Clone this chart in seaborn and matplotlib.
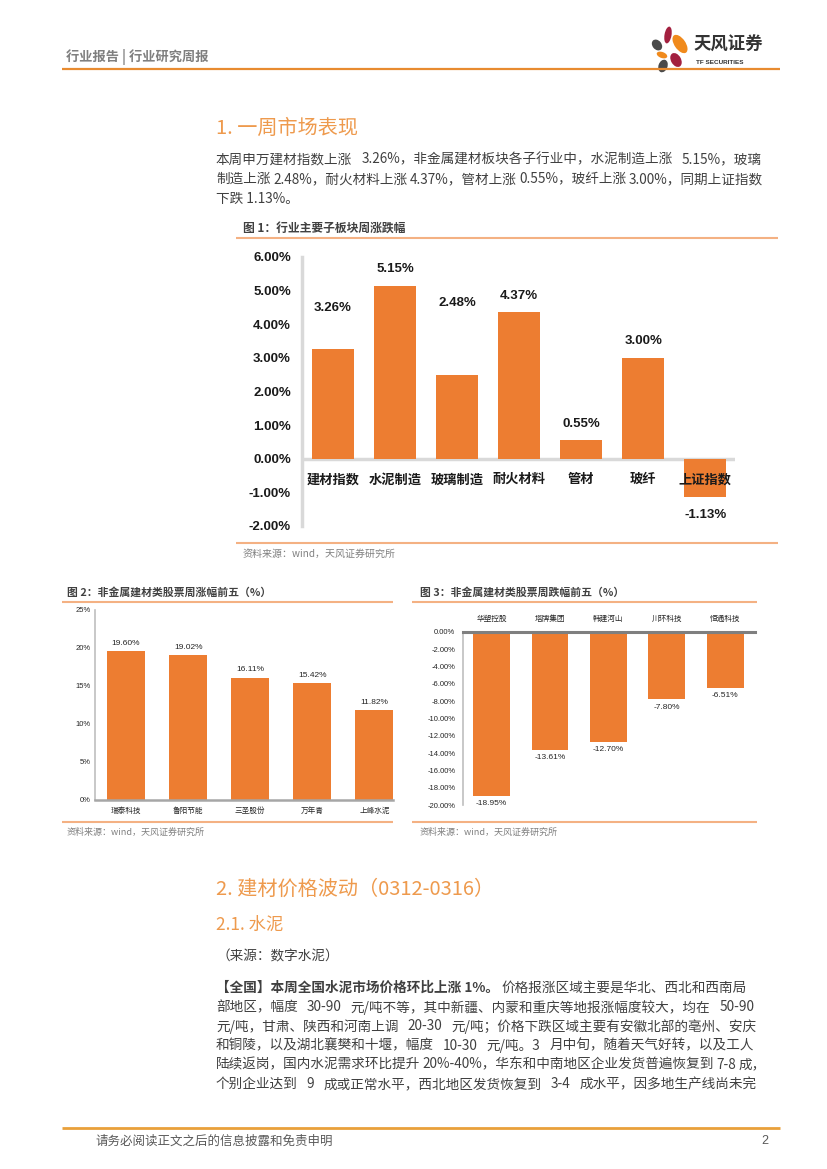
import numpy as np
import pandas as pd
import matplotlib
matplotlib.use('Agg')
import matplotlib.pyplot as plt
import seaborn as sns
from matplotlib.patches import Ellipse

# ---------------- data ----------------
fig1_categories = ['建材指数', '水泥制造', '玻璃制造', '耐火材料', '管材', '玻纤', '上证指数']
fig1_values = [3.26, 5.15, 2.48, 4.37, 0.55, 3.00, -1.13]
fig1_yticks = [6, 5, 4, 3, 2, 1, 0, -1, -2]

fig2_stocks = ['瑞泰科技', '鲁阳节能', '三圣股份', '万年青', '上峰水泥']
fig2_values = [19.60, 19.02, 16.11, 15.42, 11.82]
fig2_yticks = [0, 5, 10, 15, 20, 25]

fig3_stocks = ['华塑控股', '塔牌集团', '韩建河山', '川环科技', '恒通科技']
fig3_values = [-18.95, -13.61, -12.70, -7.80, -6.51]
fig3_yticks = [0, -2, -4, -6, -8, -10, -12, -14, -16, -18, -20]

# label positions for figure 1 (as placed in the original)
fig1_label_y = [4.49, 5.65, 4.64, 4.85, 1.04, 3.51, -1.67]

para1 = [
    '本周申万建材指数上涨 3.26%，非金属建材板块各子行业中，水泥制造上涨 5.15%，玻璃',
    '制造上涨 2.48%，耐火材料上涨 4.37%，管材上涨 0.55%，玻纤上涨 3.00%，同期上证指数',
    '下跌 1.13%。',
]
para2_bold = '【全国】本周全国水泥市场价格环比上涨 1%。'
para2 = [
    '价格报涨区域主要是华北、西北和西南局',
    '部地区，幅度 30-90 元/吨不等，其中新疆、内蒙和重庆等地报涨幅度较大，均在 50-90',
    '元/吨，甘肃、陕西和河南上调 20-30 元/吨；价格下跌区域主要有安徽北部的亳州、安庆',
    '和铜陵，以及湖北襄樊和十堰，幅度 10-30 元/吨。3 月中旬，随着天气好转，以及工人',
    '陆续返岗，国内水泥需求环比提升 20%-40%，华东和中南地区企业发货普遍恢复到 7-8 成，',
    '个别企业达到 9 成或正常水平，西北地区发货恢复到 3-4 成水平，因多地生产线尚未完',
]

# ---------------- style ----------------
sns.set_theme(style='white')
plt.rcParams['font.family'] = ['Liberation Sans', 'Noto Sans CJK SC', 'DejaVu Sans']
plt.rcParams['axes.unicode_minus'] = False

BAR = '#ED7D31'
TITLE_OR = '#EE9A4D'
LINE_OR = '#E88B30'
LIGHT_OR = '#F4B183'
TXT = '#404040'
GRAY = '#808080'
CJK = ['Noto Sans CJK SC', 'DejaVu Sans']
BODY_FS = 9.8

W, H = 827, 1169
fig = plt.figure(figsize=(W / 100, H / 100), dpi=100)
fig.patch.set_facecolor('white')

bg = fig.add_axes([0, 0, 1, 1])
bg.set_xlim(0, W)
bg.set_ylim(H, 0)
bg.axis('off')
renderer = fig.canvas.get_renderer()


def rect(x0, y0, x1, y1):
    return [x0 / W, 1 - y1 / H, (x1 - x0) / W, (y1 - y0) / H]


def hline(x0, x1, y, color, lw):
    bg.plot([x0, x1], [y, y], color=color, lw=lw, solid_capstyle='butt')


def body_line(x0, x1, y, text, justify=True, **kw):
    """Write one line of body text; spread it over [x0, x1] at its spaces."""
    chunks = text.split(' ')
    if not justify or len(chunks) == 1:
        return bg.text(x0, y, text, fontsize=BODY_FS, color=TXT, va='center',
                       ha='left', family=CJK, **kw)
    objs, widths = [], []
    for c in chunks:
        t = bg.text(x0, y, c, fontsize=BODY_FS, color=TXT, va='center',
                    ha='left', family=CJK, **kw)
        objs.append(t)
        widths.append(t.get_window_extent(renderer=renderer).width)
    gap = (x1 - x0 - sum(widths)) / (len(chunks) - 1)
    gap = min(max(gap, 2.5), 9.0)
    x = x0
    for t, w in zip(objs, widths):
        t.set_x(x)
        x += w + gap
    return objs[-1]


# ---------------- header ----------------
bg.text(66, 57, '行业报告 | 行业研究周报', fontsize=9.5, color='#7F7F7F',
        fontweight='bold', va='center', ha='left', family=CJK)
hline(62, 780, 69, LINE_OR, 1.6)

petals = [
    (668, 35, 7, 17, 10, '#A3203F'),
    (680, 44, 11, 21, -35, '#F08A1C'),
    (657, 45, 9, 12, -40, '#4A4A4A'),
    (662, 55, 11, 6, 20, '#F08A1C'),
    (676, 60, 10, 15, -30, '#A3203F'),
    (663, 66, 9, 13, 20, '#4A4A4A'),
]
for cx, cy, ew, eh, ang, col in petals:
    bg.add_patch(Ellipse((cx, cy), ew, eh, angle=ang, color=col, lw=0))
bg.text(694, 45, '天风证券', fontsize=12.5, fontweight='bold', color='#333333',
        va='center', ha='left', family=CJK)
bg.text(696, 63, 'TF SECURITIES', fontsize=4.6, fontweight='bold', color='#333333',
        va='center', ha='left')

# ---------------- section 1 ----------------
bg.text(216, 128, '1. 一周市场表现', fontsize=14.5, color=TITLE_OR, va='center',
        ha='left', family=CJK)
for k, line in enumerate(para1):
    body_line(216, 763, 159 + 20 * k, line, justify=(k < len(para1) - 1))

bg.text(243, 228, '图 1：行业主要子板块周涨跌幅', fontsize=8.5, fontweight='bold',
        color=TXT, va='center', ha='left', family=CJK)
hline(236, 778, 238, LIGHT_OR, 1.5)
hline(236, 778, 543, LIGHT_OR, 1.5)
bg.text(243, 554, '资料来源：wind，天风证券研究所', fontsize=7.2, color=GRAY,
        va='center', ha='left', family=CJK)

# chart 1
ax1 = fig.add_axes(rect(302, 257, 735, 526))
ax1.set_facecolor('none')
df1 = pd.DataFrame({'cat': fig1_categories, 'val': fig1_values})
sns.barplot(data=df1, x='cat', y='val', color=BAR, saturation=1, width=0.68,
            linewidth=0, ax=ax1, zorder=2)
ax1.set_xlim(-0.5, 6.48)
ax1.set_ylim(-2, 6)
ax1.axhline(0, color='#D9D9D9', lw=2.5, zorder=1)
ax1.set_yticks(fig1_yticks)
ax1.set_yticklabels([f'{v:.2f}%' for v in fig1_yticks], fontsize=9.5,
                    fontweight='bold', color='#1A1A1A')
ax1.set_xticks([])
ax1.set_xlabel('')
ax1.set_ylabel('')
ax1.tick_params(axis='y', length=0, pad=8)
for s in ['top', 'right', 'bottom']:
    ax1.spines[s].set_visible(False)
ax1.spines['left'].set_color('#D9D9D9')
ax1.spines['left'].set_linewidth(2.5)
for i, (cat, v, ly) in enumerate(zip(fig1_categories, fig1_values, fig1_label_y)):
    ax1.text(i, -0.63, cat, ha='center', va='center', fontsize=9.5,
             fontweight='bold', color='#1A1A1A', zorder=4)
    ax1.text(i, ly, f'{v:.2f}%', ha='center', va='center', fontsize=9.5,
             fontweight='bold', color='#1A1A1A', zorder=4)

# ---------------- chart 2 ----------------
bg.text(67, 592, '图 2：非金属建材类股票周涨幅前五（%）', fontsize=7.8,
        fontweight='bold', color=TXT, va='center', ha='left', family=CJK)
hline(62, 393, 602, LIGHT_OR, 1.5)
hline(62, 393, 822, LIGHT_OR, 1.5)
bg.text(67, 832, '资料来源：wind，天风证券研究所', fontsize=6.5, color=GRAY,
        va='center', ha='left', family=CJK)

ax2 = fig.add_axes(rect(95, 610, 393, 800))
ax2.set_facecolor('none')
df2 = pd.DataFrame({'stock': fig2_stocks, 'val': fig2_values})
sns.barplot(data=df2, x='stock', y='val', color=BAR, saturation=1, width=0.61,
            linewidth=0, ax=ax2)
ax2.set_xlim(-0.5, 4.3)
ax2.set_ylim(0, 25)
ax2.set_yticks(fig2_yticks)
ax2.set_yticklabels([f'{v}%' for v in fig2_yticks], fontsize=5.5, color='#262626')
ax2.set_xticks(range(len(fig2_stocks)))
ax2.set_xticklabels(fig2_stocks, fontsize=5.5, color='#262626', family=CJK)
ax2.set_xlabel('')
ax2.set_ylabel('')
ax2.tick_params(axis='y', length=0, pad=3)
ax2.tick_params(axis='x', length=0, pad=5)
for s in ['top', 'right']:
    ax2.spines[s].set_visible(False)
ax2.spines['left'].set_color('#BFBFBF')
ax2.spines['left'].set_linewidth(1.2)
ax2.spines['bottom'].set_color('#A6A6A6')
ax2.spines['bottom'].set_linewidth(1.8)
for i, v in enumerate(fig2_values):
    ax2.annotate(f'{v:.2f}%', (i, v), xytext=(0, 3), textcoords='offset points',
                 ha='center', va='bottom', fontsize=6, color='#262626')

# ---------------- chart 3 ----------------
bg.text(420, 592, '图 3：非金属建材类股票周跌幅前五（%）', fontsize=7.8,
        fontweight='bold', color=TXT, va='center', ha='left', family=CJK)
hline(412, 757, 602, LIGHT_OR, 1.5)
hline(412, 757, 822, LIGHT_OR, 1.5)
bg.text(420, 832, '资料来源：wind，天风证券研究所', fontsize=6.5, color=GRAY,
        va='center', ha='left', family=CJK)

ax3 = fig.add_axes(rect(463, 632, 755, 805))
ax3.set_facecolor('none')
df3 = pd.DataFrame({'stock': fig3_stocks, 'val': fig3_values})
sns.barplot(data=df3, x='stock', y='val', color=BAR, saturation=1, width=0.63,
            linewidth=0, ax=ax3)
ax3.set_xlim(-0.49, 4.51)
ax3.set_ylim(-20, 0)
ax3.set_yticks(fig3_yticks)
ax3.set_yticklabels([f'{v:.2f}%' for v in fig3_yticks], fontsize=5.5, color='#262626')
ax3.xaxis.tick_top()
ax3.set_xticks(range(len(fig3_stocks)))
ax3.set_xticklabels(fig3_stocks, fontsize=5.5, color='#262626', family=CJK)
ax3.set_xlabel('')
ax3.set_ylabel('')
ax3.tick_params(axis='y', length=0, pad=5.5)
ax3.tick_params(axis='x', length=0, pad=6.5)
for s in ['bottom', 'right']:
    ax3.spines[s].set_visible(False)
ax3.spines['left'].set_color('#BFBFBF')
ax3.spines['left'].set_linewidth(1.2)
ax3.spines['top'].set_color('#7F7F7F')
ax3.spines['top'].set_linewidth(2.2)
for i, v in enumerate(fig3_values):
    ax3.annotate(f'{v:.2f}%', (i, v), xytext=(0, -3), textcoords='offset points',
                 ha='center', va='top', fontsize=6, color='#262626')

# ---------------- section 2 ----------------
bg.text(216, 889, '2. 建材价格波动（0312-0316）', fontsize=14.5, color=TITLE_OR,
        va='center', ha='left', family=CJK)
bg.text(216, 925, '2.1. 水泥', fontsize=12.5, color=TITLE_OR, va='center',
        ha='left', family=CJK)
bg.text(216, 956, '（来源：数字水泥）', fontsize=BODY_FS, color=TXT, va='center',
        ha='left', family=CJK)

tb = bg.text(216, 988, para2_bold, fontsize=BODY_FS, fontweight='bold', color=TXT,
             va='center', ha='left', family=CJK)
bb = tb.get_window_extent(renderer=renderer)
rest = bg.text(bb.x1 + 2, 988, para2[0], fontsize=BODY_FS, color=TXT, va='center',
               ha='left', family=CJK)
for k, line in enumerate(para2[1:], start=1):
    body_line(216, 763, 988 + 19.2 * k, line)

# ---------------- footer ----------------
hline(62, 780, 1128, '#E9A03A', 2.0)
bg.text(95, 1141, '请务必阅读正文之后的信息披露和免责申明', fontsize=9, color='#595959',
        va='center', ha='left', family=CJK)
bg.text(768, 1141, '2', fontsize=9, color='#595959', va='center', ha='right')

fig.savefig('out.png', dpi=100, facecolor='white')
